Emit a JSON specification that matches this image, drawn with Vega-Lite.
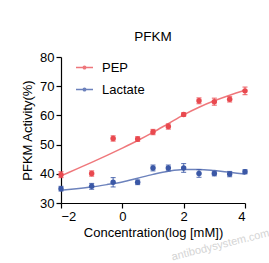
{
  "$schema": "https://vega.github.io/schema/vega-lite/v6.json",
  "width": 184,
  "height": 146,
  "autosize": "none",
  "padding": {"left": 61, "top": 57, "right": 24, "bottom": 60},
  "background": "white",
  "config": {
    "view": {"stroke": null},
    "font": "Liberation Sans",
    "axis": {"domainColor": "black", "tickColor": "black", "labelColor": "black", "titleColor": "black", "grid": false, "labelFontSize": 13, "titleFontSize": 13, "titleFontWeight": "normal", "tickSize": 5, "domainWidth": 1.2, "tickWidth": 1.2}
  },
  "title": {"text": "PFKM", "fontSize": 13.5, "fontWeight": "normal", "anchor": "middle", "offset": 8, "color": "black"},
  "datasets": {
    "pts": [
      {"series": "PEP", "x": -2, "y": 39.7, "err": 1.0},
      {"series": "PEP", "x": -1, "y": 40.1, "err": 0.9},
      {"series": "PEP", "x": -0.3, "y": 52.1, "err": 0.9},
      {"series": "PEP", "x": 0.5, "y": 51.9, "err": 0.8},
      {"series": "PEP", "x": 1, "y": 54.3, "err": 0.9},
      {"series": "PEP", "x": 1.5, "y": 56.2, "err": 0.9},
      {"series": "PEP", "x": 2, "y": 60.3, "err": 0.6},
      {"series": "PEP", "x": 2.5, "y": 65.0, "err": 1.0},
      {"series": "PEP", "x": 3, "y": 64.7, "err": 1.2},
      {"series": "PEP", "x": 3.5, "y": 65.5, "err": 0.9},
      {"series": "PEP", "x": 4, "y": 68.4, "err": 1.3},
      {"series": "Lactate", "x": -2, "y": 34.9, "err": 0.8},
      {"series": "Lactate", "x": -1, "y": 35.7, "err": 1.0},
      {"series": "Lactate", "x": -0.3, "y": 37.1, "err": 1.6},
      {"series": "Lactate", "x": 0.5, "y": 37.1, "err": 0.8},
      {"series": "Lactate", "x": 1, "y": 42.0, "err": 1.0},
      {"series": "Lactate", "x": 1.5, "y": 42.0, "err": 1.0},
      {"series": "Lactate", "x": 2, "y": 42.0, "err": 1.5},
      {"series": "Lactate", "x": 2.5, "y": 40.1, "err": 1.3},
      {"series": "Lactate", "x": 3, "y": 40.1, "err": 0.8},
      {"series": "Lactate", "x": 3.5, "y": 39.9, "err": 0.9},
      {"series": "Lactate", "x": 4, "y": 40.7, "err": 0.7}
    ],
    "fit": [
      {"series": "PEP", "x": -2, "y": 39.3},
      {"series": "PEP", "x": -1.5, "y": 41.6},
      {"series": "PEP", "x": -1, "y": 43.9},
      {"series": "PEP", "x": -0.5, "y": 46.3},
      {"series": "PEP", "x": 0, "y": 48.8},
      {"series": "PEP", "x": 0.5, "y": 51.4},
      {"series": "PEP", "x": 1, "y": 54.2},
      {"series": "PEP", "x": 1.5, "y": 57.2},
      {"series": "PEP", "x": 2, "y": 60.2},
      {"series": "PEP", "x": 2.5, "y": 62.8},
      {"series": "PEP", "x": 3, "y": 65.0},
      {"series": "PEP", "x": 3.5, "y": 66.9},
      {"series": "PEP", "x": 4, "y": 68.6},
      {"series": "Lactate", "x": -2, "y": 34.4},
      {"series": "Lactate", "x": -1.5, "y": 34.9},
      {"series": "Lactate", "x": -1, "y": 35.5},
      {"series": "Lactate", "x": -0.5, "y": 36.3},
      {"series": "Lactate", "x": 0, "y": 37.2},
      {"series": "Lactate", "x": 0.5, "y": 38.5},
      {"series": "Lactate", "x": 1, "y": 39.8},
      {"series": "Lactate", "x": 1.5, "y": 40.9},
      {"series": "Lactate", "x": 2, "y": 41.5},
      {"series": "Lactate", "x": 2.5, "y": 41.5},
      {"series": "Lactate", "x": 3, "y": 41.1},
      {"series": "Lactate", "x": 3.5, "y": 40.5},
      {"series": "Lactate", "x": 4, "y": 39.9}
    ],
    "wm": [{"x": 3.2, "y": 15.5, "label": "antibodysystem.com"}]
  },
  "encoding": {
    "x": {"field": "x", "type": "quantitative", "scale": {"domain": [-2, 4], "nice": false, "zero": false}, "axis": {"values": [-2, 0, 2, 4], "title": "Concentration(log [mM])", "labelPadding": 2, "titlePadding": 3}},
    "y": {"field": "y", "type": "quantitative", "scale": {"domain": [30, 80], "nice": false, "zero": false}, "axis": {"values": [30, 40, 50, 60, 70, 80], "title": "PFKM Activity(%)", "titlePadding": 5}}
  },
  "layer": [
    {
      "data": {"name": "fit"},
      "mark": {"type": "line", "interpolate": "monotone", "strokeWidth": 1.5, "opacity": 0.75},
      "encoding": {
        "color": {"field": "series", "type": "nominal", "scale": {"domain": ["PEP", "Lactate"], "range": ["#e9494f", "#3b58a6"]},
          "legend": {"title": null, "orient": "none", "legendX": 14, "legendY": 1, "labelFontSize": 13, "labelColor": "black", "rowPadding": 5,
            "symbolType": "M-1,0L1,0M0.16,0A0.16,0.16 0 1 1 -0.16,0A0.16,0.16 0 1 1 0.16,0", "symbolSize": 289, "symbolStrokeWidth": 1.3, "labelOffset": 8,
            "encode": {"symbols": {"update": {"fill": {"scale": "color", "field": "value"}, "stroke": {"scale": "color", "field": "value"}, "opacity": {"value": 0.8}}}}}}
      }
    },
    {
      "data": {"name": "pts"},
      "mark": {"type": "errorbar", "ticks": {"size": 5}, "thickness": 1.1, "opacity": 0.8},
      "encoding": {
        "yError": {"field": "err"},
        "color": {"field": "series", "type": "nominal"}
      }
    },
    {
      "data": {"name": "pts"},
      "mark": {"type": "point", "filled": true, "size": 30, "opacity": 1},
      "encoding": {
        "color": {"field": "series", "type": "nominal"}
      }
    },
    {
      "data": {"name": "wm"},
      "mark": {"type": "text", "angle": -14, "fontSize": 11, "color": "#d4d4d4"},
      "encoding": {
        "text": {"field": "label"}
      }
    }
  ]
}
